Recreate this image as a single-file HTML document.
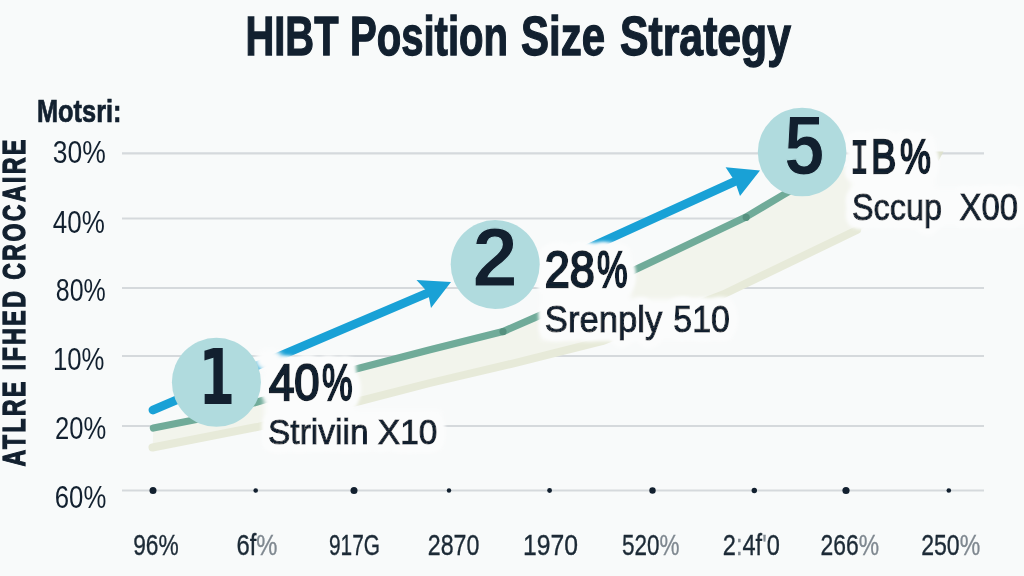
<!DOCTYPE html>
<html lang="en">
<head>
<meta charset="utf-8">
<title>HIBT Position Size Strategy</title>
<style>
html,body{margin:0;padding:0;background:#f8fafa;}
body{width:1024px;height:576px;overflow:hidden;font-family:"Liberation Sans",sans-serif;}
svg{display:block;}
text{font-family:"Liberation Sans",sans-serif;fill:#12202f;}
.b{font-weight:bold;}
.xl text{fill:#1c2a36;stroke:#1c2a36;stroke-width:0.35px;}
.xl .fa{fill:#7f8890;stroke:#7f8890;}
.dj{font-family:"DejaVu Sans","Liberation Sans",sans-serif;font-weight:bold;}
</style>
</head>
<body>
<svg width="1024" height="576" viewBox="0 0 1024 576">
<defs>
<filter id="halo" x="-15%" y="-40%" width="130%" height="180%">
<feGaussianBlur in="SourceAlpha" stdDeviation="5" result="b1"/>
<feComponentTransfer in="b1" result="b2"><feFuncA type="linear" slope="40" intercept="-0.25"/></feComponentTransfer>
<feGaussianBlur in="b2" stdDeviation="1.6" result="b3"/>
<feFlood flood-color="#fbfcfc"/>
<feComposite in2="b3" operator="in" result="h"/>
<feMerge><feMergeNode in="h"/><feMergeNode in="SourceGraphic"/></feMerge>
</filter>
<filter id="soft" x="-10%" y="-20%" width="120%" height="140%"><feGaussianBlur stdDeviation="2.5"/></filter>
</defs>
<rect width="1024" height="576" fill="#f8fafa"/>
<!-- title -->
<g class="b" font-size="55" stroke="#12202f" stroke-width="1.3">
<text x="245.5" y="55" textLength="93" lengthAdjust="spacingAndGlyphs">HIBT</text>
<text x="350" y="55" textLength="158" lengthAdjust="spacingAndGlyphs">Position</text>
<text x="521" y="55" textLength="84" lengthAdjust="spacingAndGlyphs">Size</text>
<text x="620" y="55" textLength="171" lengthAdjust="spacingAndGlyphs">Strategy</text>
</g>
<!-- grid -->
<g stroke="#d5d9dc" stroke-width="2.2">
<line x1="122" y1="153.3" x2="984" y2="153.3"/>
<line x1="122" y1="218.5" x2="984" y2="218.5"/>
<line x1="122" y1="288" x2="984" y2="288"/>
<line x1="122" y1="356" x2="984" y2="356"/>
<line x1="122" y1="426" x2="984" y2="426"/>
<line x1="122" y1="490.5" x2="984" y2="490.5"/>
</g>
<!-- y labels -->
<text class="b" x="37" y="122" font-size="30.5" stroke="#12202f" stroke-width="0.7" textLength="84.5" lengthAdjust="spacingAndGlyphs">Motsri:</text>
<g font-size="31">
<text x="52.8" y="163" textLength="53" lengthAdjust="spacingAndGlyphs">30%</text>
<text x="52.8" y="233" textLength="52" lengthAdjust="spacingAndGlyphs">40%</text>
<text x="55.8" y="300.6" textLength="50" lengthAdjust="spacingAndGlyphs">80%</text>
<text x="53" y="370" textLength="51.5" lengthAdjust="spacingAndGlyphs">10%</text>
<text x="55" y="438.7" textLength="51.2" lengthAdjust="spacingAndGlyphs">20%</text>
<text x="54.8" y="507.5" textLength="51.5" lengthAdjust="spacingAndGlyphs">60%</text>
</g>
<!-- vertical label -->
<text class="b" font-size="32" transform="translate(24.8,466.5) rotate(-90) scale(0.72,1)" textLength="454" lengthAdjust="spacing" stroke="#12202f" stroke-width="1.3">ATLRE IFHED CROCAIRE</text>
<!-- band -->
<path d="M153.4,428 L195,419.8 L263,400.3 L356,369 L430,349.8 L503,331.6 L540,315.4 L578,299 L633.4,270.6 L746,217 L783,195 L801,186 L860,160 L939,154 L858,233 L857,233 L723,297.5 L602,344.2 L511.6,366.8 L430,386 L356,405 L259,429.6 L152.5,450.5 Z" fill="#f2f4ec"/>
<path d="M152.5,447.5 L259,426.6 L356,402 L430,383 L511.6,363.8 L602,341.2 L723,294.5 L857,230" fill="none" stroke="#e7ead9" stroke-width="8" stroke-linecap="round" stroke-linejoin="round"/>
<!-- green line -->
<path d="M153.4,428 L195,419.8 L263,400.3 L356,369 L430,349.8 L503,331.6 L540,315.4 L578,299 L633.4,270.6 L746,217 L783,195 L796,187.5" fill="none" stroke="#70ab99" stroke-width="7.2" stroke-linecap="round" stroke-linejoin="round"/>
<circle cx="503" cy="331.6" r="3.6" fill="#56917f"/>
<circle cx="746.2" cy="217.3" r="3.6" fill="#56917f"/>
<!-- blue arrows -->
<g stroke="#19a1d6" stroke-width="8.8" stroke-linecap="round" fill="none">
<line x1="153" y1="410" x2="430" y2="292"/>
<line x1="586" y1="249.2" x2="737" y2="180.6"/>
</g>
<polygon points="451,282 416.5,280 428,292.5 431,308" fill="#19a1d6"/>
<polygon points="760,170.4 725.6,167.3 735,181.5 740,196" fill="#19a1d6"/>
<!-- bottom dots -->
<g fill="#12202f">
<circle cx="153" cy="490.5" r="3.5"/><circle cx="255.7" cy="490.5" r="2.3"/><circle cx="354" cy="490.5" r="3.5"/>
<circle cx="449" cy="490.5" r="2.2"/><circle cx="549.6" cy="490.5" r="2.4"/><circle cx="652.5" cy="490.5" r="3.2"/>
<circle cx="754.3" cy="490.5" r="2.7"/><circle cx="846" cy="490.5" r="3.6"/><circle cx="948.8" cy="490.5" r="2.3"/>
</g>
<!-- x labels -->
<g class="xl" font-size="29.5">
<text x="133.2" y="554.9" textLength="45.5" lengthAdjust="spacingAndGlyphs">96%</text>
<text x="236.5" y="554.9" textLength="41" lengthAdjust="spacingAndGlyphs">6f<tspan class="fa">%</tspan></text>
<text x="329" y="554.9" textLength="51" lengthAdjust="spacingAndGlyphs">917G</text>
<text x="427.8" y="554.9" textLength="51.6" lengthAdjust="spacingAndGlyphs">2870</text>
<text x="523" y="554.9" textLength="55" lengthAdjust="spacingAndGlyphs">1970</text>
<text x="622" y="554.9" textLength="57.5" lengthAdjust="spacingAndGlyphs">520<tspan class="fa">%</tspan></text>
<text x="722.8" y="554.9" textLength="57" lengthAdjust="spacingAndGlyphs">2<tspan class="fa">:</tspan>4f<tspan class="fa">'</tspan>0</text>
<text x="820.6" y="554.9" textLength="58.5" lengthAdjust="spacingAndGlyphs">266<tspan class="fa">%</tspan></text>
<text x="921.2" y="554.9" textLength="59" lengthAdjust="spacingAndGlyphs">250<tspan class="fa">%</tspan></text>
</g>
<!-- callouts -->
<g fill="#fbfcfc" filter="url(#soft)">
<ellipse cx="269" cy="360" rx="14" ry="11.5"/>
<path d="M264,360 H355 V410 H442 V450 H264 Z"/>
<path d="M541,249 H631 V299 H732 V340 H541 Z"/>
<rect x="572" y="243.8" width="42" height="12"/>
<path d="M851,137 H935 V188 H1030 V226 H851 Z"/>
</g>
<polygon points="933,151.5 943.5,151.5 938.5,161" fill="#dde1cd"/>
<g font-size="50" stroke="#12202f" stroke-width="2.4" filter="url(#halo)">
<text x="268.9" y="399.5" textLength="50.7" lengthAdjust="spacingAndGlyphs">40</text>
<text x="322.1" y="399.5" textLength="30.6" lengthAdjust="spacingAndGlyphs">%</text>
<text x="268" y="443.5" font-size="35" stroke-width="1.1" textLength="169.5" lengthAdjust="spacingAndGlyphs">Striviin X10</text>
</g>
<g font-size="50" stroke="#12202f" stroke-width="2.4" filter="url(#halo)">
<text x="544.7" y="286.5" textLength="50.1" lengthAdjust="spacingAndGlyphs">28</text>
<text x="597.1" y="286.5" textLength="30.6" lengthAdjust="spacingAndGlyphs">%</text>
<text x="544.8" y="331.8" font-size="36" stroke-width="1.1" textLength="117.5" lengthAdjust="spacingAndGlyphs">Srenply</text>
<text x="673.3" y="331.8" font-size="36" stroke-width="1.1" textLength="56.5" lengthAdjust="spacingAndGlyphs">510</text>
</g>
<g font-size="49" stroke="#12202f" stroke-width="2.4" filter="url(#halo)">
<text x="850.3" y="173.2" stroke-width="2.2" textLength="18.5" lengthAdjust="spacingAndGlyphs" style="font-family:'Liberation Mono',monospace">I</text>
<text x="871" y="173.2" textLength="25.25" lengthAdjust="spacingAndGlyphs">B</text>
<text x="900.1" y="173.2" textLength="30.9" lengthAdjust="spacingAndGlyphs">%</text>
<text x="852" y="219.5" font-size="36" stroke-width="1.1" textLength="90" lengthAdjust="spacingAndGlyphs">Sccup</text>
<text x="959.5" y="219.5" font-size="36" stroke-width="1.1" textLength="58.5" lengthAdjust="spacingAndGlyphs">X00</text>
</g>
<!-- circles -->
<g fill="#b0dbde">
<circle cx="216.4" cy="382.3" r="44.5"/>
<circle cx="495.2" cy="264.5" r="44.5"/>
<circle cx="802.1" cy="152" r="44.3"/>
</g>
<g font-size="77">
<text class="dj" x="198.6" y="403.7" textLength="36.6" lengthAdjust="spacingAndGlyphs">1</text>
<text class="b" font-size="84" x="472.2" y="286.4" textLength="45.6" stroke="#b0dbde" stroke-width="1.2" lengthAdjust="spacingAndGlyphs">2</text>
<text class="b" font-size="84" x="784" y="174" textLength="40.5" stroke="#b0dbde" stroke-width="1.2" lengthAdjust="spacingAndGlyphs">5</text>
</g>
</svg>
</body>
</html>
